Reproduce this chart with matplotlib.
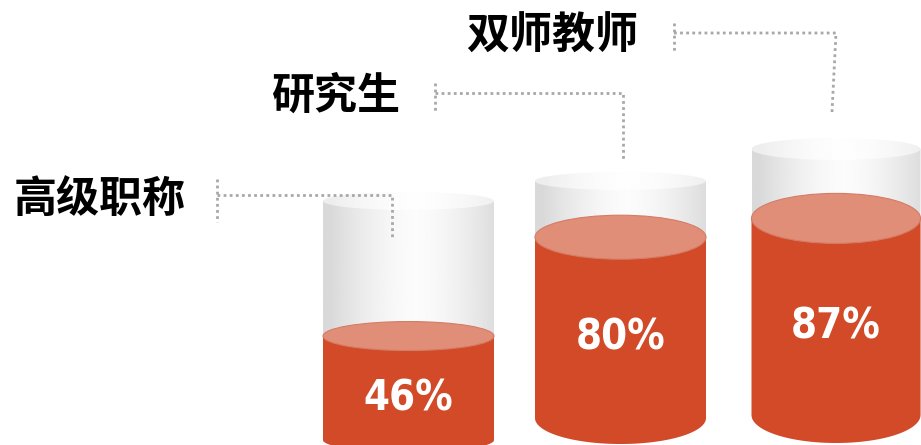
"""
Three glass cylinders filled to a percentage, with dotted callout labels.
"""
import matplotlib
matplotlib.use('Agg')
import matplotlib.pyplot as plt
from matplotlib.patches import Ellipse, Polygon
import numpy as np

# data
LABELS = ["高级职称", "研究生", "双师教师"]
VALUES = [46, 80, 87]

# colours
RED = "#D24A27"
SURFACE = "#E08E78"
SURFACE_EDGE = "#D47C66"
DOT_GREY = "#A8A8A8"

# layout (pixel space, y down)
CENTER_X = [408.5, 620.5, 836.0]
WIDTH = [171, 171, 169]
TOP_Y = [201, 181, 149]
TOP_RY = [9, 9, 11]
BOTTOM_Y = [440, 418, 415]
BOTTOM_RY = [12, 26, 28]
SURFACE_RY = [14.5, 22, 25]
PX_PER_100 = 226  # height of 100 % fill

LABEL_XY = [(14, 199), (271, 96), (466, 36)]
CALLOUTS = [
    [(217, 179), (217, 222)], [(217, 195), (392, 195), (392, 237)],
    [(435, 83), (435, 112)], [(435, 93), (623, 93), (623, 159)],
    [(674, 23), (674, 52)], [(674, 33), (836, 33), (832, 112)],
]

fig = plt.figure(figsize=(9.21, 4.45), dpi=100)
ax = fig.add_axes([0, 0, 1, 1])
ax.set_xlim(0, 921)
ax.set_ylim(445, 0)
ax.axis('off')


def body_outline(cx, w, y_top, y_bot, ry):
    """Rectangle with a rounded (half-ellipse) bottom."""
    t = np.linspace(0, np.pi, 60)
    arc_x = cx + w / 2 * np.cos(t)
    arc_y = y_bot + ry * np.sin(t)
    xs = np.concatenate([[cx - w / 2, cx + w / 2], arc_x])
    ys = np.concatenate([[y_top, y_top], arc_y])
    return np.column_stack([xs, ys])


def gradient_fill(poly, x0, x1, y0, y1, lo, hi, zorder):
    t = np.linspace(0, 1, 256)
    g = lo + (hi - lo) * (1 - np.abs(2 * t - 1.08) ** 1.6).clip(0, 1)
    img = np.repeat(g[None, :], 2, axis=0)
    im = ax.imshow(img, cmap='gray', vmin=0, vmax=1, extent=(x0, x1, y1, y0),
                   aspect='auto', interpolation='bilinear', zorder=zorder)
    im.set_clip_path(poly)


for i, v in enumerate(VALUES):
    cx, w = CENTER_X[i], WIDTH[i]
    x0, x1 = cx - w / 2, cx + w / 2

    # glass body
    glass = Polygon(body_outline(cx, w, TOP_Y[i], BOTTOM_Y[i], BOTTOM_RY[i]),
                    closed=True, facecolor='none', edgecolor='none')
    ax.add_patch(glass)
    gradient_fill(glass, x0, x1, TOP_Y[i], BOTTOM_Y[i] + BOTTOM_RY[i], 0.85, 0.985, 1)

    # glass top
    top = Ellipse((cx, TOP_Y[i]), w, 2 * TOP_RY[i], facecolor='none', edgecolor='none')
    ax.add_patch(top)
    gradient_fill(top, x0, x1, TOP_Y[i] - TOP_RY[i], TOP_Y[i] + TOP_RY[i], 0.93, 0.995, 2)

    # liquid
    level = BOTTOM_Y[i] - v / 100 * PX_PER_100
    liquid = Polygon(body_outline(cx, w, level, BOTTOM_Y[i], BOTTOM_RY[i]),
                     closed=True, facecolor=RED, edgecolor='none', zorder=3)
    ax.add_patch(liquid)
    ax.add_patch(Ellipse((cx, level), w, 2 * SURFACE_RY[i], facecolor=SURFACE,
                         edgecolor=SURFACE_EDGE, linewidth=0.8, zorder=4))

    ax.text(cx, (level + BOTTOM_Y[i]) / 2 + 10, f"{v}%", ha='center', va='center',
            fontsize=30, fontweight='heavy', fontstretch='condensed',
            family=['DejaVu Sans'], color='white', zorder=5)

    lx, ly = LABEL_XY[i]
    ax.text(lx, ly, LABELS[i], ha='left', va='center', fontsize=31, fontweight='heavy',
            family=['Noto Sans CJK SC', 'DejaVu Sans'], color='black', zorder=5)

for pts in CALLOUTS:
    xs, ys = zip(*pts)
    ax.plot(xs, ys, color=DOT_GREY, linestyle=(0, (1, 1.2)), linewidth=2, zorder=6)

fig.savefig('out.png', dpi=100)
